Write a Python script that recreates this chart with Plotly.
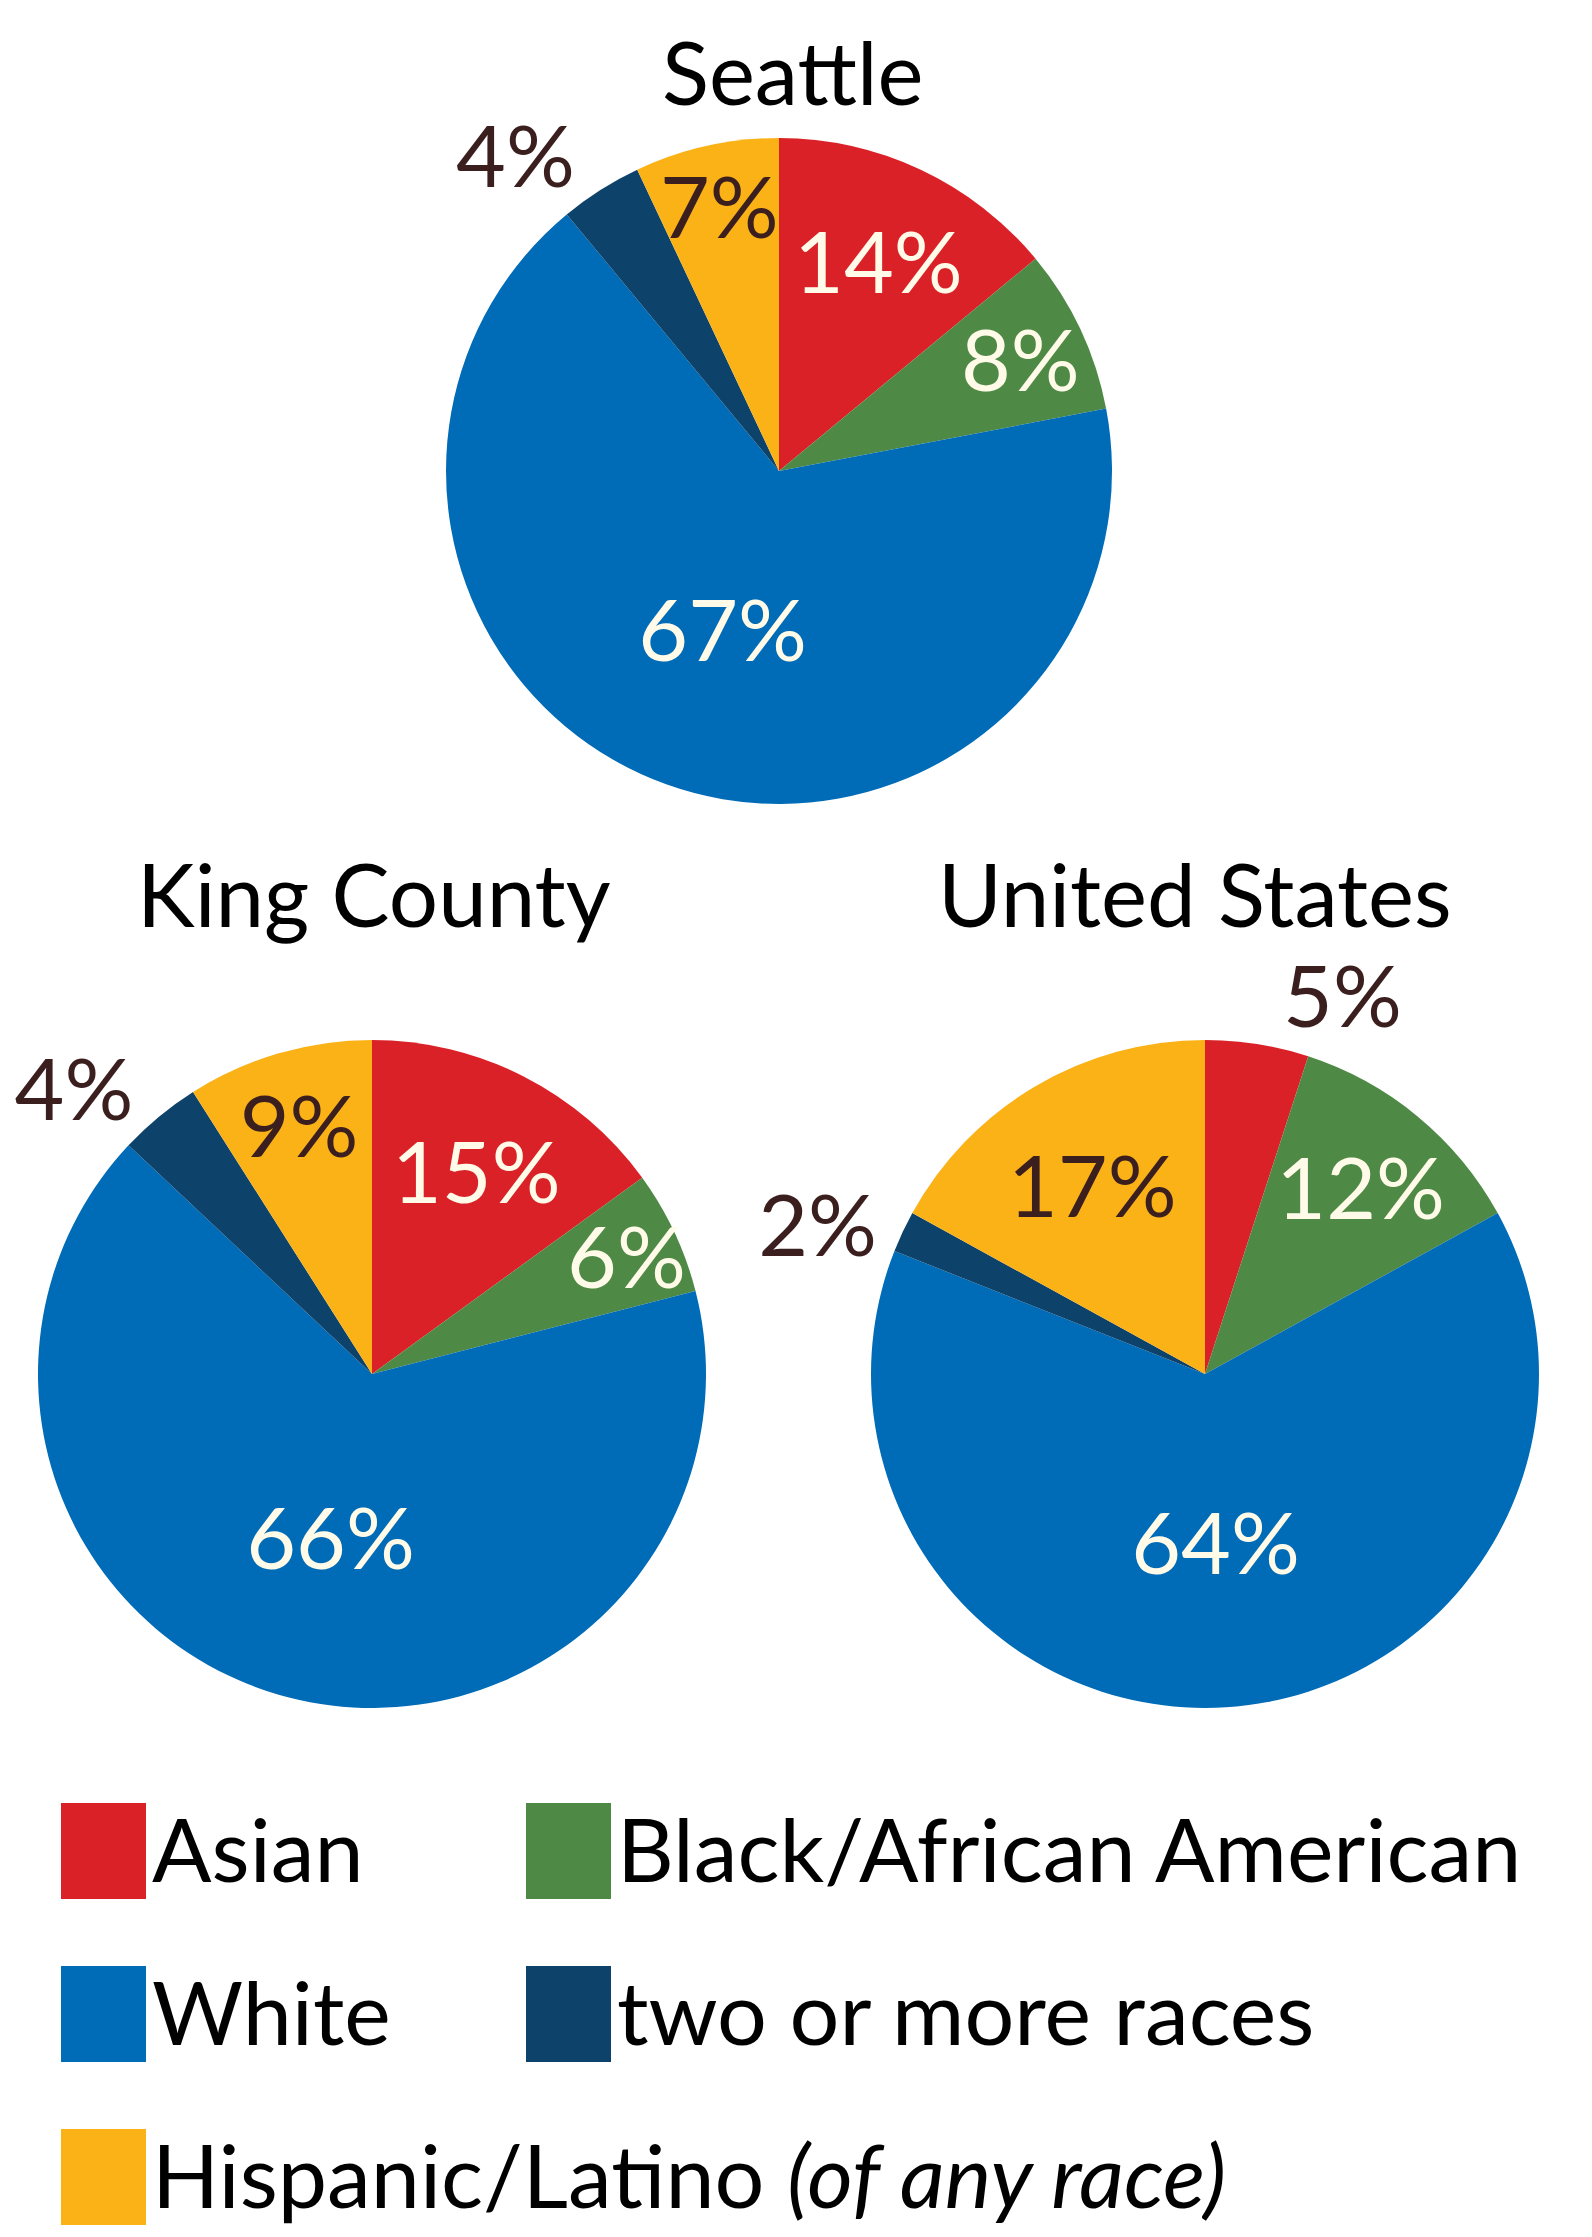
import plotly.graph_objects as go

W, H = 1592, 2237

# ---- data ----
categories = ["Asian", "Black/African American", "White", "two or more races", "Hispanic/Latino"]
seattle = [14, 8, 67, 4, 7]
king_county = [15, 6, 66, 4, 9]
united_states = [5, 12, 64, 2, 17]
titles = ["Seattle", "King County", "United States"]

# ---- style ----
colors = ["#DA2128", "#4E8A45", "#006BB6", "#0D426A", "#FBB217"]
CREAM = "#FFFBE8"
BROWN = "#3B1F1F"
FONT = "Lato, sans-serif"
LABEL_SIZE = 86


def px_dom(x0, x1, y0, y1):
    return dict(x=[x0 / W, x1 / W], y=[1 - y1 / H, 1 - y0 / H])


domains = [
    px_dom(446, 1112, 138, 804),
    px_dom(38, 706, 1040, 1708),
    px_dom(871, 1539, 1040, 1708),
]
positions = [
    ["inside", "inside", "inside", "outside", "inside"],
    ["inside", "inside", "inside", "outside", "inside"],
    ["outside", "inside", "inside", "outside", "inside"],
]
inside_colors = [CREAM, CREAM, CREAM, CREAM, BROWN]

fig = go.Figure()
for vals, dom, pos in zip([seattle, king_county, united_states], domains, positions):
    fig.add_trace(go.Pie(
        labels=categories, values=vals, sort=False, direction="clockwise",
        rotation=0, domain=dom,
        marker=dict(colors=colors, line=dict(width=0)),
        texttemplate="%{value}%", textposition=pos,
        insidetextorientation="horizontal",
        insidetextfont=dict(color=inside_colors, size=LABEL_SIZE, family=FONT),
        outsidetextfont=dict(color=BROWN, size=LABEL_SIZE, family=FONT),
        hoverinfo="skip", showlegend=False,
    ))

annotations = []
title_pos = [(792, 71), (374, 893), (1195, 893)]
for t, (x, y) in zip(titles, title_pos):
    annotations.append(dict(text=t, x=x / W, y=1 - y / H, xref="paper", yref="paper",
                            showarrow=False, xanchor="center", yanchor="middle",
                            font=dict(size=87, color="#000000", family=FONT)))

# legend built from shapes + text
legend_layout = [  # (swatch x0, swatch y0) in px for each category
    (61, 1803), (526, 1803), (61, 1966), (526, 1966), (61, 2129),
]
legend_text = [
    "Asian", "Black/African American", "White", "two or more races",
    "Hispanic/Latino <i>(of any race)</i>",
]
shapes = []
for (sx, sy), col, txt in zip(legend_layout, colors, legend_text):
    shapes.append(dict(type="rect", xref="paper", yref="paper",
                       x0=sx / W, x1=(sx + 85) / W, y0=1 - (sy + 96) / H, y1=1 - sy / H,
                       fillcolor=col, line=dict(width=0)))
    annotations.append(dict(text=txt, x=(sx + 89) / W, y=1 - (sy + 45) / H,
                            xref="paper", yref="paper", showarrow=False,
                            xanchor="left", yanchor="middle",
                            font=dict(size=88, color="#000000", family=FONT)))

fig.update_layout(
    width=W, height=H, margin=dict(l=0, r=0, t=0, b=0),
    paper_bgcolor="white", plot_bgcolor="white",
    uniformtext=dict(mode="show", minsize=LABEL_SIZE),
    annotations=annotations, shapes=shapes,
)
fig.write_html("out.html", config={"displayModeBar": False},
               post_script="document.body.style.margin='0';")
